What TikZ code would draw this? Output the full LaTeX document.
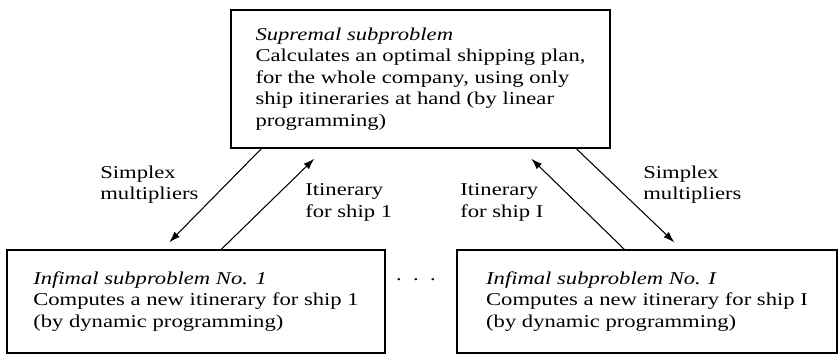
\documentclass[tikz,border=0pt]{standalone}
\usepackage{fontspec}
\setmainfont{Liberation Serif}[FakeStretch=1.25]
\usetikzlibrary{arrows.meta,positioning}
\tikzset{
  subbox/.style={draw,thick,align=left,inner sep=0pt,minimum height=2.06cm},
  flow/.style={semithick,-{Latex[length=2.2mm,width=1.5mm]}},
  lab/.style={align=left,anchor=west,inner sep=0pt}
}

\begin{document}
\begin{tikzpicture}[font=\fontsize{10.3}{12.2}\selectfont]
  \useasboundingbox (0,0) rectangle (16.78,7.1);
  % subproblems
  \node[subbox,minimum width=7.58cm,minimum height=2.76cm] (sup) at (8.41,5.52)
    {\textit{Supremal subproblem}\\
     Calculates an optimal shipping plan,\\
     for the whole company, using only\\
     ship itineraries at hand (by linear\\
     programming)};
  \node[subbox,minimum width=7.56cm] (inf1) at (3.92,1.07)
    {\textit{Infimal subproblem No. 1}\\
     Computes a new itinerary for ship 1\\
     (by dynamic programming)};
  \node[subbox,minimum width=7.6cm] (infI) at (12.94,1.07)
    {\textit{Infimal subproblem No. I}\\
     Computes a new itinerary for ship I\\
     (by dynamic programming)};
  \node[anchor=base,inner sep=0pt] (dots) at (8.32,1.5) {.\ \ .\ \ .};
  % information flow
  \draw[flow] ([xshift=0.62cm]sup.south west) -- ([xshift=3.26cm,yshift=0.14cm]inf1.north west);
  \draw[flow] ([xshift=4.3cm]inf1.north west) -- ([xshift=1.68cm,yshift=-0.2cm]sup.south west);
  \draw[flow] ([xshift=3.36cm]infI.north west) -- ([xshift=6.02cm,yshift=-0.2cm]sup.south west);
  \draw[flow] ([xshift=6.92cm]sup.south west) -- ([xshift=4.36cm,yshift=0.14cm]infI.north west);
  \node[lab] (mul1) at (2.0,3.41) {Simplex\\multipliers};
  \node[lab] (it1) at (6.1,3.05) {Itinerary\\for ship 1};
  \node[lab] (itI) at (9.2,3.05) {Itinerary\\for ship I};
  \node[lab] (mulI) at (12.86,3.41) {Simplex\\multipliers};
\end{tikzpicture}
\end{document}
